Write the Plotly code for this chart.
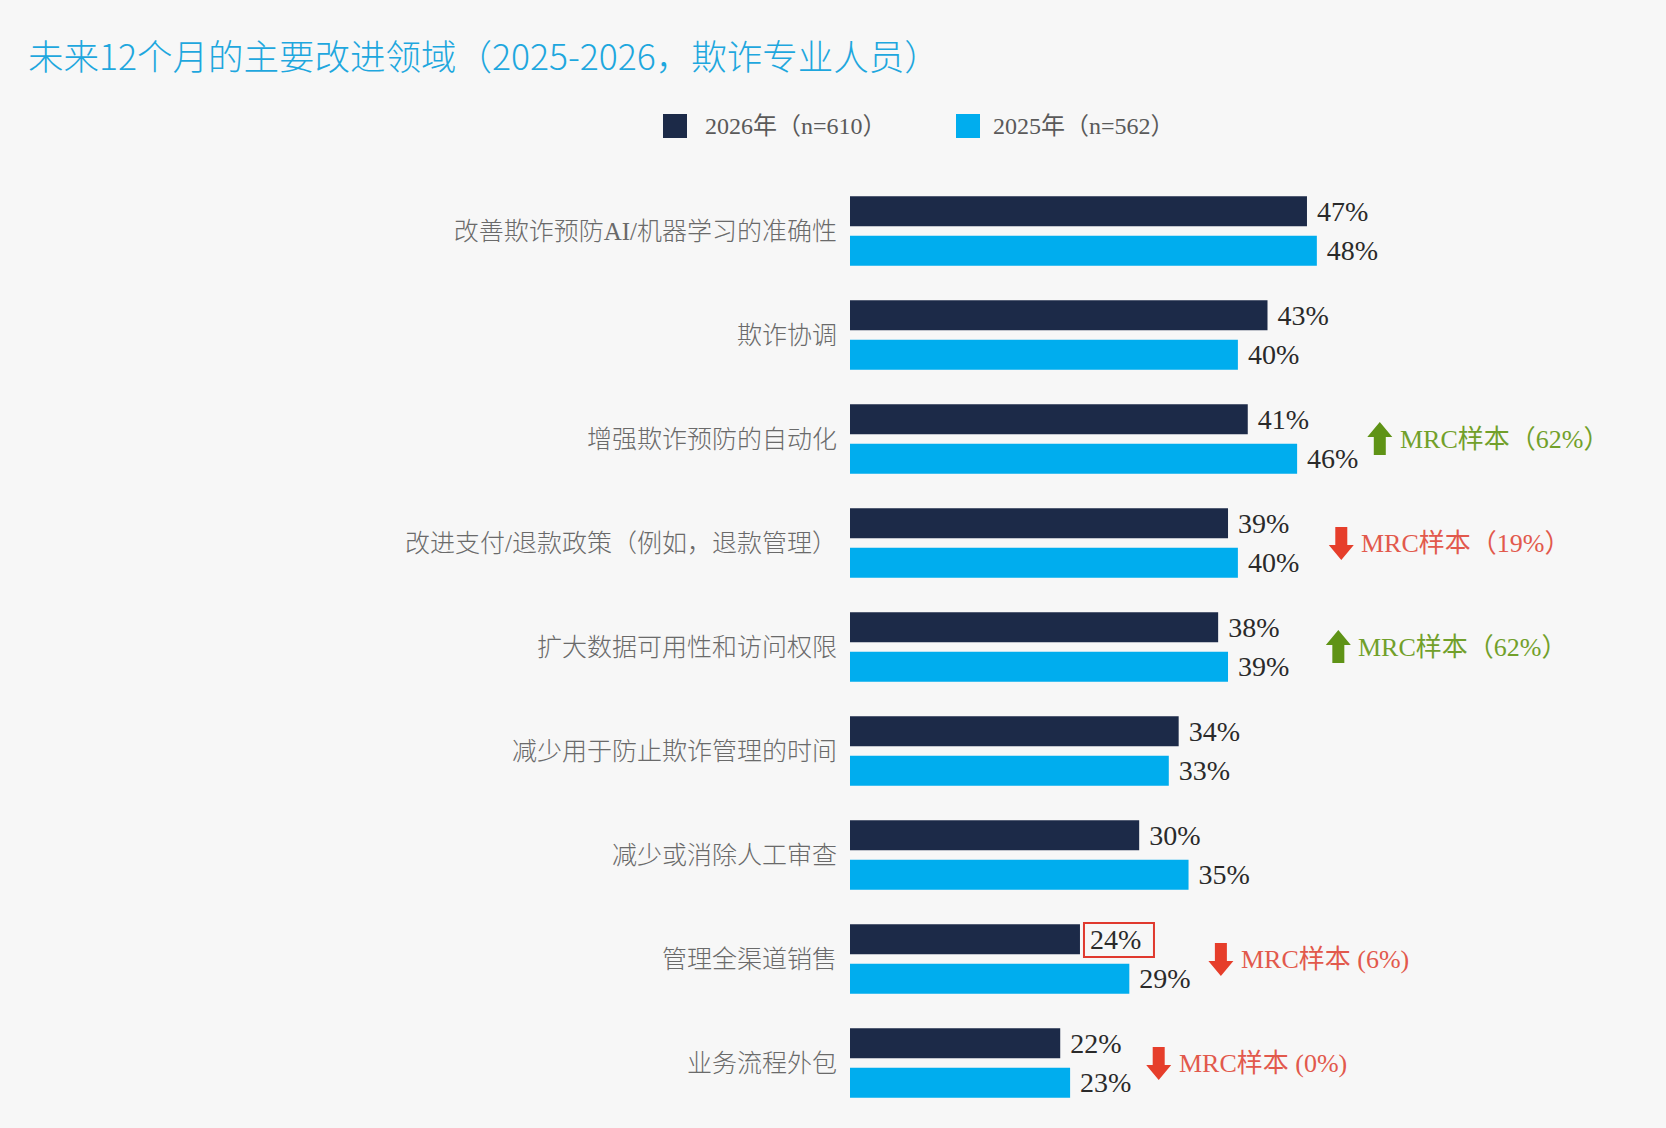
import plotly.graph_objects as go

# ---- data ----
categories = [
    "改善欺诈预防AI/机器学习的准确性",
    "欺诈协调",
    "增强欺诈预防的自动化",
    "改进支付/退款政策（例如，退款管理）",
    "扩大数据可用性和访问权限",
    "减少用于防止欺诈管理的时间",
    "减少或消除人工审查",
    "管理全渠道销售",
    "业务流程外包",
]
values_2026 = [47, 43, 41, 39, 38, 34, 30, 24, 22]
values_2025 = [48, 40, 46, 40, 39, 33, 35, 29, 23]
series_names = ["2026年（n=610）", "2025年（n=562）"]

mrc_rows = [2, 3, 4, 7, 8]
mrc_texts = ["MRC样本（62%）", "MRC样本（19%）", "MRC样本（62%）", "MRC样本 (6%)", "MRC样本 (0%)"]
mrc_dirs = ["up", "down", "up", "down", "down"]
highlight_row = 7  # boxed 2026 value

# ---- layout constants ----
title_text = "未来12个月的主要改进领域（2025-2026，欺诈专业人员）"
W, H = 1666, 1128
DARK = "#1c2a48"
LIGHT = "#00adee"
GREEN_T, GREEN_A = "#72a02a", "#5f9316"
RED_T, RED_A = "#e2594c", "#e63e2b"
BG = "#f7f7f7"
SERIF = "Liberation Serif, Noto Sans CJK SC"
mrc_x = [56.2, 52.3, 52.0, 40.1, 33.8]  # text start positions (axis units)

fig = go.Figure()
for name, vals, col in [(series_names[0], values_2026, DARK), (series_names[1], values_2025, LIGHT)]:
    fig.add_trace(go.Bar(
        y=categories, x=vals, name=name, orientation="h",
        marker=dict(color=col, line=dict(width=0)),
        text=[f" {v}%" for v in vals], textposition="outside",
        textfont=dict(family=SERIF, size=28, color="#2a2a2a"),
        cliponaxis=False, constraintext="none", showlegend=False,
        hoverinfo="skip",
    ))

shapes = []
annotations = []

# MRC annotations with arrows
for r, t, d, xv in zip(mrc_rows, mrc_texts, mrc_dirs, mrc_x):
    tc = GREEN_T if d == "up" else RED_T
    ac = GREEN_A if d == "up" else RED_A
    annotations.append(dict(
        x=xv, y=categories[r], xref="x", yref="y", text=t, showarrow=False,
        xanchor="left", yanchor="middle",
        font=dict(family=SERIF, size=26, color=tc),
    ))
    if d == "up":
        path = "M -18 17 L -5.5 2 L -12 2 L -12 -16 L -24 -16 L -24 2 L -30.5 2 Z"
    else:
        path = "M -18 -17 L -5.5 -2 L -12 -2 L -12 16 L -24 16 L -24 -2 L -30.5 -2 Z"
    shapes.append(dict(
        type="path", xref="x", yref="y", xsizemode="pixel", ysizemode="pixel",
        xanchor=xv, yanchor=categories[r], path=path,
        fillcolor=ac, line=dict(width=0),
    ))

# red box around highlighted value
shapes.append(dict(
    type="rect", xref="x", yref="y", xsizemode="pixel", ysizemode="pixel",
    xanchor=values_2026[highlight_row], yanchor=categories[highlight_row],
    x0=4, x1=74, y0=2, y1=36,
    line=dict(color="#e0392e", width=2), fillcolor="rgba(0,0,0,0)",
))

# manual legend
leg = [(663, 703, DARK, series_names[0]), (956, 991, LIGHT, series_names[1])]
for sx, tx, col, name in leg:
    shapes.append(dict(
        type="rect", xref="paper", yref="paper",
        x0=(sx - 850) / 790, x1=(sx + 24 - 850) / 790,
        y0=1 + (179 - 138) / 936, y1=1 + (179 - 114) / 936,
        fillcolor=col, line=dict(width=0),
    ))
    annotations.append(dict(
        x=(tx - 850) / 790, y=1 + (179 - 126) / 936, xref="paper", yref="paper",
        text=name, showarrow=False, xanchor="left", yanchor="middle",
        font=dict(family=SERIF, size=24, color="#5a5a5a"),
    ))

fig.update_layout(
    width=W, height=H, autosize=False,
    paper_bgcolor=BG, plot_bgcolor=BG,
    margin=dict(l=850, r=26, t=179, b=13),
    barmode="group", bargap=0.24, bargroupgap=0.243,
    title=dict(
        text=title_text, x=28 / W, xanchor="left", xref="container",
        y=1 - 58 / H, yanchor="middle", yref="container",
        font=dict(family="Noto Sans CJK SC", size=35.5, color="#1ea7de", weight=300),
    ),
    xaxis=dict(range=[0.7, 0.7 + 790 / 9.87], visible=False, fixedrange=True),
    yaxis=dict(
        categoryorder="array", categoryarray=categories, autorange="reversed",
        showgrid=False, zeroline=False, showline=False, ticks="",
        ticklabelstandoff=12,
        tickfont=dict(family=SERIF, size=25, color="#6a6a6a", weight=300),
    ),
    shapes=shapes, annotations=annotations,
)

fig.write_html("out.html")
